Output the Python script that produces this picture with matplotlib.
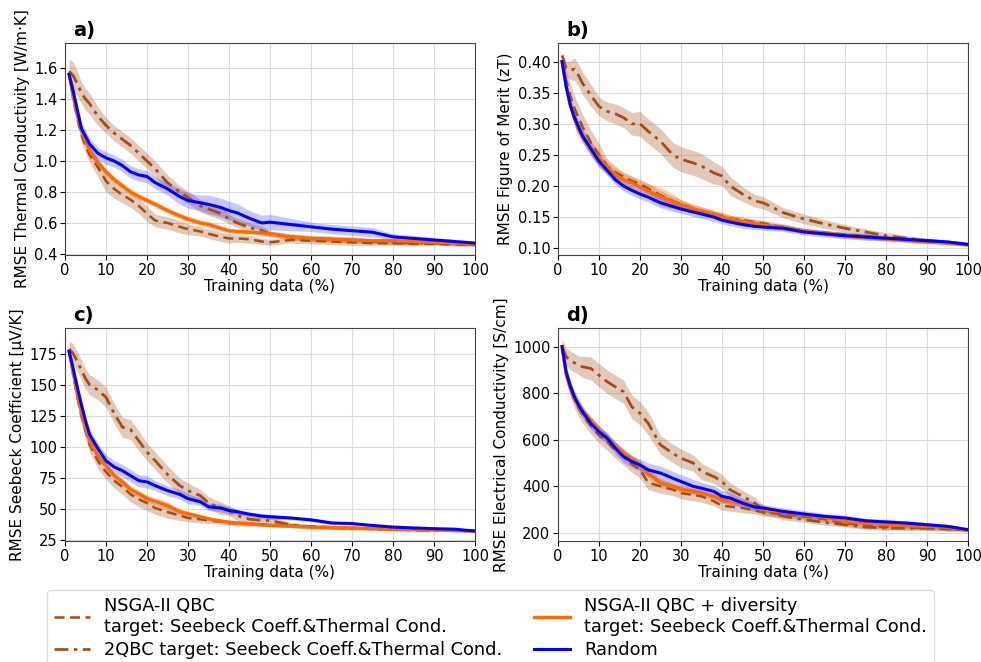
import numpy as np
import matplotlib
matplotlib.use("Agg")
import matplotlib.pyplot as plt

# training data percentage (shared x grid)
pct = [1, 2, 3, 4, 5, 6, 8, 10, 12, 14, 16, 18, 20, 22, 25, 28, 30, 33, 35, 38,
       40, 42, 45, 48, 50, 55, 60, 65, 70, 75, 80, 85, 90, 95, 100]

# a) thermal conductivity
therm_nsga = [1.56, 1.40, 1.28, 1.17, 1.10, 1.04, 0.96, 0.87, 0.82, 0.78, 0.75, 0.71, 0.66, 0.615, 0.60, 0.575, 0.56, 0.545, 0.53, 0.51,
              0.50, 0.50, 0.495, 0.48, 0.475, 0.49, 0.485, 0.48, 0.475, 0.47, 0.47, 0.465, 0.465, 0.46, 0.46]
therm_nsga_sd = [0.04, 0.05, 0.05, 0.05, 0.05, 0.05, 0.06, 0.07, 0.06, 0.05, 0.05, 0.05, 0.05, 0.04, 0.04, 0.04, 0.035, 0.03, 0.03, 0.03,
                 0.03, 0.025, 0.025, 0.02, 0.02, 0.02, 0.02, 0.02, 0.02, 0.015, 0.015, 0.015, 0.01, 0.01, 0.01]
therm_2qbc = [1.58, 1.55, 1.50, 1.44, 1.40, 1.37, 1.29, 1.23, 1.18, 1.14, 1.10, 1.05, 1.00, 0.95, 0.86, 0.80, 0.765, 0.71, 0.69, 0.66,
              0.625, 0.60, 0.57, 0.55, 0.53, 0.51, 0.50, 0.495, 0.49, 0.48, 0.475, 0.47, 0.47, 0.465, 0.46]
therm_2qbc_sd = [0.08, 0.09, 0.08, 0.07, 0.07, 0.07, 0.06, 0.05, 0.05, 0.05, 0.05, 0.05, 0.05, 0.05, 0.05, 0.04, 0.04, 0.04, 0.04, 0.04,
                 0.03, 0.03, 0.03, 0.03, 0.02, 0.02, 0.02, 0.02, 0.02, 0.015, 0.015, 0.01, 0.01, 0.01, 0.01]
therm_div = [1.56, 1.42, 1.30, 1.20, 1.13, 1.07, 0.99, 0.93, 0.88, 0.84, 0.80, 0.77, 0.745, 0.72, 0.68, 0.645, 0.625, 0.60, 0.59, 0.565,
             0.55, 0.545, 0.54, 0.535, 0.53, 0.51, 0.50, 0.495, 0.49, 0.485, 0.485, 0.48, 0.475, 0.47, 0.465]
therm_div_sd = [0.02, 0.03, 0.03, 0.03, 0.03, 0.03, 0.025, 0.025, 0.02, 0.02, 0.02, 0.02, 0.02, 0.02, 0.02, 0.02, 0.02, 0.02, 0.02, 0.02,
                0.015, 0.015, 0.015, 0.015, 0.015, 0.015, 0.015, 0.015, 0.015, 0.015, 0.01, 0.01, 0.01, 0.01, 0.01]
therm_rand = [1.56, 1.45, 1.33, 1.21, 1.16, 1.11, 1.05, 1.02, 1.00, 0.97, 0.93, 0.91, 0.90, 0.86, 0.82, 0.77, 0.745, 0.73, 0.72, 0.70,
              0.68, 0.665, 0.63, 0.60, 0.605, 0.59, 0.575, 0.56, 0.55, 0.54, 0.51, 0.50, 0.49, 0.48, 0.47]
therm_rand_sd = [0.02, 0.03, 0.04, 0.04, 0.04, 0.04, 0.04, 0.04, 0.04, 0.04, 0.04, 0.04, 0.04, 0.04, 0.04, 0.05, 0.05, 0.05, 0.06, 0.06,
                 0.06, 0.06, 0.05, 0.05, 0.05, 0.04, 0.03, 0.03, 0.03, 0.03, 0.02, 0.02, 0.015, 0.015, 0.01]

# b) figure of merit
zt_nsga = [0.40, 0.37, 0.345, 0.325, 0.31, 0.295, 0.27, 0.25, 0.232, 0.222, 0.215, 0.208, 0.203, 0.196, 0.185, 0.176, 0.171, 0.164, 0.16, 0.155,
           0.152, 0.148, 0.145, 0.142, 0.14, 0.134, 0.128, 0.125, 0.122, 0.119, 0.116, 0.114, 0.112, 0.109, 0.106]
zt_nsga_sd = [0.01, 0.015, 0.02, 0.02, 0.02, 0.02, 0.02, 0.018, 0.012, 0.01, 0.008, 0.008, 0.008, 0.008, 0.008, 0.007, 0.007, 0.006, 0.006, 0.006,
              0.006, 0.005, 0.005, 0.005, 0.005, 0.005, 0.004, 0.004, 0.004, 0.004, 0.004, 0.003, 0.003, 0.003, 0.003]
zt_2qbc = [0.41, 0.389, 0.386, 0.388, 0.378, 0.365, 0.346, 0.328, 0.32, 0.316, 0.31, 0.30, 0.30, 0.288, 0.272, 0.25, 0.243, 0.237, 0.232, 0.221,
           0.216, 0.20, 0.187, 0.176, 0.173, 0.157, 0.147, 0.139, 0.132, 0.126, 0.12, 0.116, 0.112, 0.11, 0.106]
zt_2qbc_sd = [0.005, 0.012, 0.015, 0.018, 0.018, 0.018, 0.018, 0.015, 0.015, 0.016, 0.016, 0.018, 0.02, 0.02, 0.02, 0.02, 0.02, 0.02, 0.02, 0.018,
              0.015, 0.015, 0.012, 0.01, 0.01, 0.008, 0.008, 0.007, 0.006, 0.005, 0.005, 0.004, 0.004, 0.003, 0.003]
zt_div = [0.40, 0.36, 0.33, 0.31, 0.29, 0.28, 0.26, 0.245, 0.23, 0.218, 0.21, 0.205, 0.198, 0.192, 0.183, 0.175, 0.17, 0.163, 0.16, 0.155,
          0.15, 0.147, 0.143, 0.14, 0.137, 0.133, 0.128, 0.124, 0.12, 0.117, 0.115, 0.112, 0.11, 0.108, 0.106]
zt_div_sd = [0.005, 0.01, 0.01, 0.012, 0.012, 0.012, 0.012, 0.012, 0.01, 0.01, 0.01, 0.01, 0.01, 0.012, 0.015, 0.012, 0.008, 0.007, 0.007, 0.006,
             0.006, 0.006, 0.005, 0.005, 0.005, 0.005, 0.004, 0.004, 0.004, 0.004, 0.004, 0.003, 0.003, 0.003, 0.003]
zt_rand = [0.40, 0.36, 0.33, 0.31, 0.295, 0.28, 0.26, 0.24, 0.225, 0.21, 0.20, 0.193, 0.187, 0.182, 0.173, 0.167, 0.163, 0.158, 0.155, 0.15,
           0.145, 0.142, 0.138, 0.135, 0.134, 0.132, 0.126, 0.123, 0.12, 0.118, 0.116, 0.114, 0.112, 0.11, 0.106]
zt_rand_sd = [0.005, 0.008, 0.01, 0.01, 0.01, 0.01, 0.01, 0.01, 0.008, 0.008, 0.008, 0.008, 0.008, 0.008, 0.008, 0.008, 0.007, 0.007, 0.007, 0.007,
              0.006, 0.006, 0.006, 0.005, 0.005, 0.005, 0.005, 0.005, 0.005, 0.005, 0.004, 0.004, 0.004, 0.003, 0.003]

# c) Seebeck coefficient
seeb_nsga = [177, 158, 140, 125, 113, 102, 89, 80, 73, 68, 62, 58, 55, 51, 47.8, 45, 43, 42, 41, 40,
             39, 38.6, 38.2, 37.8, 37.6, 37, 36.3, 35.7, 35, 34.5, 34, 33.8, 33.6, 33, 32.5]
seeb_nsga_sd = [3, 5, 6, 6, 6, 6, 6, 6, 6, 6, 6, 6, 6, 5, 5, 4, 3, 3, 2.5, 2,
                2, 2, 2, 1.5, 1.5, 1.5, 1, 1, 1, 1, 1, 1, 1, 1, 1]
seeb_2qbc = [179, 175, 169, 162, 155, 150, 146, 140, 127, 116, 114, 105, 96, 89, 78, 69, 65, 61, 55, 51,
             49, 45, 42, 41, 41, 37.5, 35.8, 35.2, 34.7, 34.2, 33.6, 33.3, 33, 32.8, 32.5]
seeb_2qbc_sd = [6, 8, 8, 8, 8, 8, 8, 8, 8, 8, 8, 8, 7, 7, 7, 6, 6, 5, 5, 5,
                4, 4, 3, 3, 3, 2, 2, 1.5, 1.5, 1, 1, 1, 1, 1, 1]
seeb_div = [177, 160, 142, 128, 115, 105, 93, 85, 77, 72, 66, 62.5, 58.5, 56.5, 53, 48, 46.4, 44, 42.4, 40.5,
            39.7, 39, 38.4, 37.5, 37, 36.3, 35.7, 35.3, 35, 34.5, 34, 33.8, 33.6, 33, 32.5]
seeb_div_sd = [2, 3, 3, 3, 3, 3, 3, 3, 3, 3, 3, 3, 3, 3, 3, 2.5, 2, 2, 1.5, 1.5,
               1.5, 1.5, 1.5, 1, 1, 1, 1, 1, 1, 1, 1, 1, 1, 1, 1]
seeb_rand = [177, 163, 148, 134, 121, 110, 99, 89, 84, 81, 77, 73, 72, 69, 65, 62, 58.5, 56, 52, 51,
             49, 48, 46, 44.5, 44, 43, 41.5, 39, 38.5, 37, 35.7, 35, 34.4, 34, 32.5]
seeb_rand_sd = [2, 3, 4, 4, 4, 4, 4, 5, 5, 5, 5, 5, 5, 4, 4, 4, 4, 3, 3, 3,
                3, 2, 2, 2, 2, 1.5, 1.5, 1.5, 1, 1, 1, 1, 1, 1, 1]

# d) electrical conductivity
elec_nsga = [1000, 880, 820, 770, 735, 705, 660, 620, 590, 555, 525, 495, 470, 415, 399, 385, 370, 362, 356, 335,
             316, 312, 306, 295, 287, 280, 270, 258, 241, 230, 224, 222, 220, 215, 210]
elec_nsga_sd = [15, 30, 35, 35, 35, 35, 35, 35, 35, 35, 35, 35, 35, 30, 30, 25, 25, 25, 25, 20,
                20, 20, 20, 15, 15, 15, 15, 12, 12, 12, 10, 10, 10, 10, 8]
elec_2qbc = [1000, 956, 941, 930, 920, 913, 906, 877, 849, 827, 806, 741, 713, 670, 577, 541, 520, 499, 463, 441,
             420, 384, 356, 327, 299, 270, 256, 244, 234, 224, 220, 219, 219, 217, 213]
elec_2qbc_sd = [30, 40, 40, 40, 40, 45, 50, 50, 50, 50, 50, 50, 50, 50, 40, 40, 40, 35, 35, 30,
                30, 30, 25, 25, 20, 15, 12, 12, 10, 10, 10, 8, 8, 8, 5]
elec_div = [1000, 880, 820, 775, 745, 715, 684, 641, 606, 570, 541, 513, 491, 456, 413, 399, 387, 378, 370, 355,
            341, 335, 327, 310, 299, 289, 277, 266, 249, 241, 234, 230, 227, 224, 210]
elec_div_sd = [10, 20, 20, 20, 20, 20, 20, 20, 20, 20, 20, 20, 20, 20, 20, 15, 15, 15, 15, 15,
               15, 15, 15, 12, 12, 12, 10, 10, 10, 10, 8, 8, 8, 8, 5]
elec_rand = [1000, 890, 830, 784, 749, 720, 670, 634, 606, 563, 527, 506, 491, 470, 456, 434, 420, 399, 391, 377,
             356, 349, 327, 310, 306, 291, 280, 270, 263, 251, 246, 241, 234, 227, 213]
elec_rand_sd = [10, 20, 25, 25, 25, 25, 25, 25, 25, 25, 25, 25, 25, 30, 30, 30, 30, 30, 25, 25,
                25, 25, 20, 20, 15, 15, 15, 12, 12, 10, 10, 10, 10, 8, 5]

labels = ["NSGA-II QBC\ntarget: Seebeck Coeff.&Thermal Cond.",
          "2QBC target: Seebeck Coeff.&Thermal Cond.",
          "NSGA-II QBC + diversity\ntarget: Seebeck Coeff.&Thermal Cond.",
          "Random"]
brown = "#a24e17"
orange = "#ff6a00"
blue = "#0000ff"

panels = [
    ("a)", "RMSE Thermal Conductivity [W/m·K]", (0.393, 1.762), [0.4, 0.6, 0.8, 1.0, 1.2, 1.4, 1.6], "{:.1f}",
     [therm_nsga, therm_2qbc, therm_div, therm_rand], [therm_nsga_sd, therm_2qbc_sd, therm_div_sd, therm_rand_sd]),
    ("b)", "RMSE Figure of Merit (zT)", (0.089, 0.430), [0.10, 0.15, 0.20, 0.25, 0.30, 0.35, 0.40], "{:.2f}",
     [zt_nsga, zt_2qbc, zt_div, zt_rand], [zt_nsga_sd, zt_2qbc_sd, zt_div_sd, zt_rand_sd]),
    ("c)", "RMSE Seebeck Coefficient [μV/K]", (24.5, 195.7), [25, 50, 75, 100, 125, 150, 175], "{:.0f}",
     [seeb_nsga, seeb_2qbc, seeb_div, seeb_rand], [seeb_nsga_sd, seeb_2qbc_sd, seeb_div_sd, seeb_rand_sd]),
    ("d)", "RMSE Electrical Conductivity [S/cm]", (164, 1080), [200, 400, 600, 800, 1000], "{:.0f}",
     [elec_nsga, elec_2qbc, elec_div, elec_rand], [elec_nsga_sd, elec_2qbc_sd, elec_div_sd, elec_rand_sd]),
]

styles = [dict(color=brown, ls=(0, (4, 2.2)), lw=1.8),
          dict(color=brown, ls=(0, (5, 2, 1.2, 2)), lw=2.0),
          dict(color=orange, ls="-", lw=2.4),
          dict(color=blue, ls="-", lw=2.2)]
band_alpha = [0.3, 0.3, 0.3, 0.22]

W, H = 981, 662
fig = plt.figure(figsize=(W / 100, H / 100), dpi=100)
# axes boxes in pixels: left, top, right, bottom
boxes = [(65, 43, 475, 255), (558, 43, 968, 255), (65, 328, 475, 541), (558, 328, 968, 541)]

x = np.array(pct)
handles = []
for (tag, ylab, ylim, yticks, fmt, means, sds), (l, t, r, b) in zip(panels, boxes):
    ax = fig.add_axes([l / W, 1 - b / H, (r - l) / W, (b - t) / H])
    for m, s, st, a in zip(means, sds, styles, band_alpha):
        m = np.array(m)
        s = np.array(s)
        ax.fill_between(x, m - s, m + s, color=st["color"], alpha=a, lw=0)
    hs = []
    for m, st in zip(means, styles):
        h, = ax.plot(x, m, color=st["color"], ls=st["ls"], lw=st["lw"])
        hs.append(h)
    handles = hs
    ax.set_xlim(0, 100)
    ax.set_ylim(*ylim)
    ax.set_xticks(range(0, 101, 10))
    ax.set_yticks(yticks)
    ax.set_yticklabels([fmt.format(v) for v in yticks])
    ax.tick_params(labelsize=10.5, length=3.5, pad=2)
    ax.grid(True, color="#dddddd", lw=0.8)
    ax.set_axisbelow(True)
    ax.set_xlabel("Training data (%)", fontsize=11, labelpad=1)
    ax.set_ylabel(ylab, fontsize=11, labelpad=3)
    for sp in ax.spines.values():
        sp.set_color("#444444")
    ax.text(0.02, 1.015, tag, transform=ax.transAxes, fontsize=14, fontweight="bold",
            ha="left", va="bottom")

fig.legend(handles, labels, loc="upper left", bbox_to_anchor=(47 / W, 1 - 590 / H),
           ncol=2, fontsize=12.8, handlelength=2.0, columnspacing=1.8,
           labelspacing=0.3, borderaxespad=0, framealpha=1, edgecolor="#dddddd")

fig.savefig("out.png", dpi=100)
